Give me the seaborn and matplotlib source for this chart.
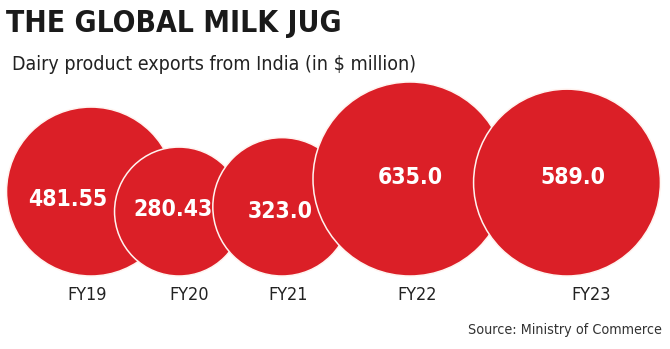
import matplotlib
matplotlib.use("Agg")
import matplotlib.pyplot as plt
import seaborn as sns
import numpy as np
import pandas as pd

# ---- data ----
years = ["FY19", "FY20", "FY21", "FY22", "FY23"]
exports = [481.55, 280.43, 323.0, 635.0, 589.0]
value_labels = ["481.55", "280.43", "323.0", "635.0", "589.0"]

title = "THE GLOBAL MILK JUG"
subtitle = "Dairy product exports from India (in $ million)"
source = "Source: Ministry of Commerce"

# ---- layout (pixel space) ----
W, H, DPI = 670, 349, 100
circle_x = [91, 179, 282, 410, 567]
label_xy = [(68, 200), (173, 210), (280, 212), (410, 178), (573, 178)]
year_x = [87, 189, 288, 417, 591]
year_y = 295
baseline = 276
R_MAX = 97  # px radius for the largest value
RED = "#db1f27"

sns.set_theme(style="white")
plt.rcParams["font.family"] = ["DejaVu Sans"]
plt.rcParams["font.stretch"] = "condensed"

vmax = max(exports)
radii = [R_MAX * np.sqrt(v / vmax) for v in exports]
df = pd.DataFrame({
    "year": years,
    "value": exports,
    "x": circle_x,
    "y": [baseline - r for r in radii],
})

fig = plt.figure(figsize=(W / DPI, H / DPI), dpi=DPI)
ax = fig.add_axes([0, 0, 1, 1])
ax.set_xlim(0, W)
ax.set_ylim(H, 0)
ax.axis("off")

s_max = (2 * R_MAX * 72 / DPI) ** 2
sns.scatterplot(data=df, x="x", y="y", size="value", sizes=(0, s_max),
                size_norm=(0, vmax), color=RED, edgecolor="#fff4f0",
                linewidth=1.1, legend=False, ax=ax, zorder=2)

for (tx, ty), lab in zip(label_xy, value_labels):
    ax.text(tx, ty, lab, color="white", fontsize=16.5, fontweight="bold",
            fontstretch="condensed", ha="center", va="center", zorder=5)

for xx, yr in zip(year_x, years):
    ax.text(xx, year_y, yr, color="#222222", fontsize=13,
            fontstretch="condensed", ha="center", va="center")

fig.text(6 / W, 1 - 23 / H, title, fontsize=21.5, fontweight="bold",
         fontstretch="condensed", color="#1a1a1a", ha="left", va="center")
fig.text(12 / W, 1 - 65 / H, subtitle, fontsize=14, color="#222222",
         fontstretch="condensed", ha="left", va="center")
fig.text(662 / W, 1 - 330 / H, source, fontsize=10.3, color="#333333",
         fontstretch="condensed", ha="right", va="center")

fig.savefig("out.png", dpi=DPI, facecolor="white")
